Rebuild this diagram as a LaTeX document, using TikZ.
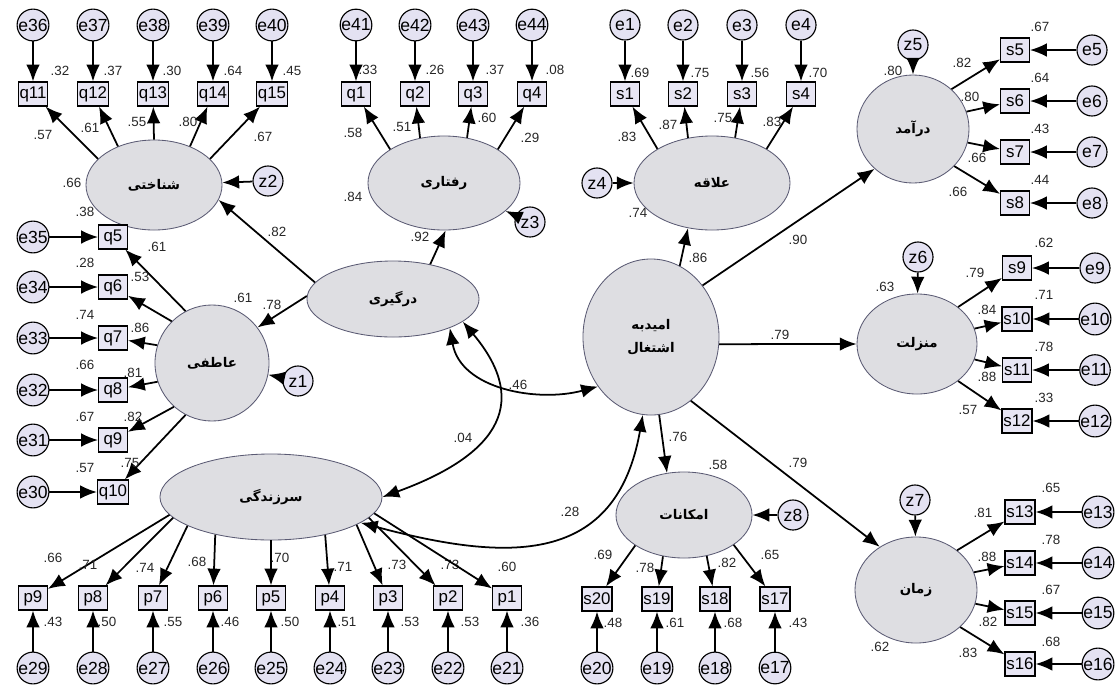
\documentclass[tikz,border=0pt]{standalone}
\usepackage{fontspec}
\setmainfont{Liberation Sans}
\newfontfamily\farsi[Script=Arabic]{DejaVu Sans}
\TeXXeTstate=1
\usetikzlibrary{shapes.geometric,arrows.meta}

\definecolor{latfill}{RGB}{222,222,226}
\definecolor{latline}{RGB}{90,90,115}
\definecolor{errfill}{RGB}{228,226,242}
\definecolor{indfill}{RGB}{232,230,244}
\newcommand{\fa}[1]{{\farsi\beginR #1\endR}}

\tikzset{
  lat/.style={ellipse, draw=latline, semithick, fill=latfill, inner sep=0pt, align=center,
    font=\fontsize{9.5}{16}\selectfont\bfseries},
  err/.style={circle, draw, thick, fill=errfill, minimum size=0.75cm, inner sep=0pt,
    font=\fontsize{12.5}{14}\selectfont},
  ind/.style={rectangle, draw, thick, fill=indfill, minimum width=0.72cm, minimum height=0.6cm,
    inner sep=1pt, font=\fontsize{12}{13}\selectfont},
  est/.style={inner sep=0pt, text=black!85, font=\fontsize{9.5}{10}\selectfont},
  arr/.style={line width=1.25pt, -{Latex[length=4.2mm,width=3.4mm]}},
  cov/.style={line width=1.25pt, {Latex[length=4.2mm,width=3.4mm]}-{Latex[length=4.2mm,width=3.4mm]}},
}

\begin{document}
\begin{tikzpicture}[x=0.025cm, y=-0.025cm]
  \useasboundingbox (0,0) rectangle (1120,686);

  % latent variables
  \node [lat, minimum width=3.4cm, minimum height=2.25cm](shen) at (154,185) {\fa{شناختی}};
  \node [lat, minimum width=3.8cm, minimum height=2.35cm](raft) at (444,183) {\fa{رفتاری}};
  \node [lat, minimum width=3.9cm, minimum height=2.35cm](alaq) at (712,183) {\fa{علاقه}};
  \node [lat, minimum width=2.8cm, minimum height=2.7cm](daramad) at (913,129) {\fa{درآمد}};
  \node [lat, minimum width=3.0cm, minimum height=2.5cm](manz) at (917,344) {\fa{منزلت}};
  \node [lat, minimum width=3.05cm, minimum height=2.65cm](zaman) at (916,590) {\fa{زمان}};
  \node [lat, minimum width=3.4cm, minimum height=3.9cm](omid) at (651,337) {\fa{امیدبه}\\\fa{اشتغال}};
  \node [lat, minimum width=4.3cm, minimum height=1.9cm](derg) at (393,299) {\fa{درگیری}};
  \node [lat, minimum width=2.85cm, minimum height=2.9cm](atef) at (212,363) {\fa{عاطفی}};
  \node [lat, minimum width=5.55cm, minimum height=2.15cm](sarz) at (271,497) {\fa{سرزندگی}};
  \node [lat, minimum width=3.4cm, minimum height=2.15cm](emkan) at (684,515) {\fa{امکانات}};

  % top row
  \foreach \q/\e/\x/\r/\rx in {11/36/33/.32/60, 12/37/93/.37/113, 13/38/153/.30/172, 14/39/213/.64/233, 15/40/272/.45/292}{
    \node [err](e\e) at (\x,25) {e\e};
    \node [ind](q\q) at (\x,94) {q\q};
    \draw[arr] (e\e) -- (q\q);
    \node [est](r-q\q) at (\rx,71) {\r};
  }
  \foreach \q/\e/\x/\r/\rx in {1/41/356/.33/368, 2/42/415/.26/435, 3/43/473/.37/495, 4/44/532/.08/555}{
    \node [err](e\e) at (\x,25) {e\e};
    \node [ind](q\q) at (\x,94) {q\q};
    \draw[arr] (e\e) -- (q\q);
    \node [est](r-q\q) at (\rx,70) {\r};
  }
  \foreach \s/\x/\r/\rx in {1/625/.69/640, 2/683/.75/700, 3/742/.56/760, 4/801/.70/818}{
    \node [err](e\s) at (\x,25) {e\s};
    \node [ind](s\s) at (\x,94) {s\s};
    \draw[arr] (e\s) -- (s\s);
    \node [est](r-s\s) at (\rx,73) {\r};
  }

  % right column
  \foreach \s/\y/\r/\ry in {5/50/.67/27, 6/101/.64/78, 7/152/.43/129, 8/203/.44/180}{
    \node [ind](s\s) at (1015,\y) {s\s};
    \node [err](e\s) at (1092,\y) {e\s};
    \draw[arr] (e\s) -- (s\s);
    \node [est](r-s\s) at (1040,\ry) {\r};
  }
  \foreach \s/\y/\r/\ry in {9/268/.62/243, 10/319/.71/295, 11/370/.78/347, 12/421/.33/398}{
    \node [ind](s\s) at (1017,\y) {s\s};
    \node [err](e\s) at (1095,\y) {e\s};
    \draw[arr] (e\s) -- (s\s);
    \node [est](r-s\s) at (1044,\ry) {\r};
  }
  \foreach \s/\y/\r/\ry in {13/512/.65/488, 14/563/.78/540, 15/613/.67/590, 16/664/.68/642}{
    \node [ind](s\s) at (1020,\y) {s\s};
    \node [err](e\s) at (1098,\y) {e\s};
    \draw[arr] (e\s) -- (s\s);
    \node [est](r-s\s) at (1051,\ry) {\r};
  }

  % bottom row
  \foreach \s/\x/\r/\rx in {20/597/.48/613, 19/657/.61/675, 18/715/.68/733, 17/775/.43/798}{
    \node [ind](s\s) at (\x,599) {s\s};
    \node [err](e\s) at (\x,668) {e\s};
    \draw[arr] (e\s) -- (s\s);
    \node [est](r-s\s) at (\rx,623) {\r};
  }
  \foreach \p/\e/\x/\r/\rx in {9/29/33/.43/53, 8/28/93/.50/107, 7/27/153/.55/173, 6/26/213/.46/230, 5/25/271/.50/290,
                               4/24/330/.51/347, 3/23/388/.53/410, 2/22/448/.53/470, 1/21/507/.36/530}{
    \node [ind](p\p) at (\x,598) {p\p};
    \node [err](e\e) at (\x,668) {e\e};
    \draw[arr] (e\e) -- (p\p);
    \node [est](r-p\p) at (\rx,622) {\r};
  }

  % left column
  \foreach \q/\e/\y/\r/\ry in {5/35/237/.38/212, 6/34/287/.28/263, 7/33/338/.74/315, 8/32/390/.66/365, 9/31/440/.67/417, 10/30/492/.57/468}{
    \node [ind](q\q) at (113,\y) {q\q};
    \node [err](e\e) at (33,\y) {e\e};
    \draw[arr] (e\e) -- (q\q);
    \node [est](r-q\q) at (85,\ry) {\r};
  }

  % loadings
  \foreach \q/\a/\l/\lx/\ly in {11/155/.57/43/135, 12/133/.61/90/128, 13/90/.55/137/122, 14/47/.80/188/122, 15/25/.67/263/137}{
    \draw[arr] (shen.\a) -- (q\q);
    \node [est](l-q\q) at (\lx,\ly) {\l};
  }
  \foreach \q/\a/\l/\lx/\ly in {1/148/.58/353/133, 2/118/.51/402/127, 3/63/.60/487/118, 4/32/.29/530/138}{
    \draw[arr] (raft.\a) -- (q\q);
    \node [est](l-q\q) at (\lx,\ly) {\l};
  }
  \foreach \s/\a/\l/\lx/\ly in {1/148/.83/627/137, 2/118/.87/668/125, 3/63/.75/723/118, 4/32/.83/772/122}{
    \draw[arr] (alaq.\a) -- (s\s);
    \node [est](l-s\s) at (\lx,\ly) {\l};
  }
  \foreach \s/\a/\l/\lx/\ly in {5/46/.82/962/63, 6/18/.80/970/97, 7/-14/.66/977/158, 8/-42/.66/958/192}{
    \draw[arr] (daramad.\a) -- (s\s);
    \node [est](l-s\s) at (\lx,\ly) {\l};
  }
  \foreach \s/\a/\l/\lx/\ly in {9/42/.79/975/273, 10/15/.84/987/310, 11/-15/.88/987/377, 12/-42/.57/968/410}{
    \draw[arr] (manz.\a) -- (s\s);
    \node [est](l-s\s) at (\lx,\ly) {\l};
  }
  \foreach \s/\a/\l/\lx/\ly in {13/44/.81/983/513, 14/17/.88/987/557, 15/-13/.82/988/622, 16/-40/.83/968/653}{
    \draw[arr] (zaman.\a) -- (s\s);
    \node [est](l-s\s) at (\lx,\ly) {\l};
  }
  \foreach \s/\a/\l/\lx/\ly in {20/-148/.69/603/555, 19/-117/.78/645/568, 18/-61/.82/727/563, 17/-31/.65/770/555}{
    \draw[arr] (emkan.\a) -- (s\s);
    \node [est](l-s\s) at (\lx,\ly) {\l};
  }
  \foreach \p/\a/\l/\lx/\ly in {9/-170/.66/53/558, 8/-168/.71/88/565, 7/-161/.74/145/568, 6/-146/.68/197/562, 5/-90/.70/280/558,
                                4/-35/.71/343/567, 3/-18/.73/397/565, 2/-12/.73/450/565, 1/-9/.60/507/567}{
    \draw[arr] (sarz.\a) -- (p\p);
    \node [est](l-p\p) at (\lx,\ly) {\l};
  }
  \foreach \q/\a/\l/\lx/\ly in {5/117/.61/157/247, 6/134/.53/140/277, 7/162/.86/140/328, 8/-161/.81/133/373, 9/-131/.82/133/417, 10/-117/.75/130/463}{
    \draw[arr] (atef.\a) -- (q\q);
    \node [est](l-q\q) at (\lx,\ly) {\l};
  }

  % disturbances
  \foreach \z/\x/\y/\t in {1/298/381/atef, 2/268/181/shen, 3/530/222/raft, 4/597/183/alaq,
                           5/913/45/daramad, 6/918/257/manz, 7/915/500/zaman, 8/793/515/emkan}{
    \node [err](z\z) at (\x,\y) {z\z};
    \draw[arr] (z\z) -- (\t);
  }

  % structural paths
  \draw[arr] (derg.168) -- (shen.-13);
  \draw[arr] (derg.43) -- (raft.-88);
  \draw[arr] (derg.178) -- (atef.38);
  \draw[arr] (omid.68) -- (alaq.-118);
  \draw[arr] (omid.45) -- (daramad.-134);
  \draw[arr] (omid.-6) -- (manz.west);
  \draw[arr] (omid.-84) -- (emkan.112);
  \draw[arr] (omid.-58) -- (zaman.130);
  \draw[cov] (derg.-27) to[out=-80,in=-165] (omid.-137);
  \draw[cov] (derg.-18) to[out=-50,in=20,looseness=1.5] (sarz.east);
  \draw[cov] (sarz.-16) to[out=-15,in=-100,looseness=1.3] (omid.-96);

  % latent and path estimates
  \node [est](v-shen) at (72,183) {.66};
  \node [est](v-raft) at (353,197) {.84};
  \node [est](v-alaq) at (638,213) {.74};
  \node [est](v-daramad) at (893,71) {.80};
  \node [est](v-manz) at (885,287) {.63};
  \node [est](v-zaman) at (880,647) {.62};
  \node [est](v-emkan) at (718,465) {.58};
  \node [est](v-atef) at (243,298) {.61};
  \node [est](b-shen) at (277,232) {.82};
  \node [est](b-raft) at (420,237) {.92};
  \node [est](b-atef) at (272,305) {.78};
  \node [est](c-omid) at (518,385) {.46};
  \node [est](c-sarz) at (463,438) {.04};
  \node [est](c-so) at (570,512) {.28};
  \node [est](b-alaq) at (698,258) {.86};
  \node [est](b-daramad) at (798,240) {.90};
  \node [est](b-manz) at (780,335) {.79};
  \node [est](b-emkan) at (678,437) {.76};
  \node [est](b-zaman) at (798,463) {.79};
\end{tikzpicture}
\end{document}
